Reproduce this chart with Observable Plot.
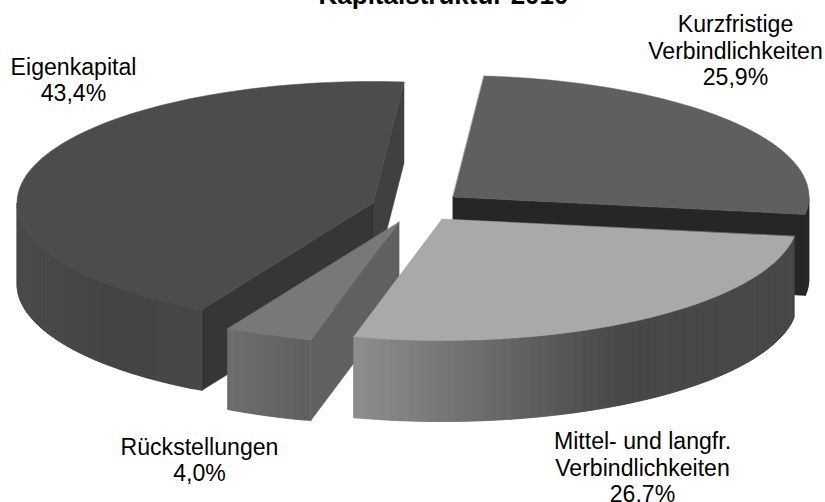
<!DOCTYPE html>
<html>
<head>
<meta charset="utf-8">
<script src="https://cdn.jsdelivr.net/npm/d3@7"></script>
<script src="https://cdn.jsdelivr.net/npm/@observablehq/plot@0.6"></script>
<style>html,body{margin:0;padding:0;background:#fff}svg{display:block}</style>
</head>
<body>
<div id="chart"></div>
<script>
const chartTitle = "Kapitalstruktur 2010";
const categories = ["Kurzfristige\nVerbindlichkeiten", "Mittel- und langfr.\nVerbindlichkeiten", "Rückstellungen", "Eigenkapital"];
const shares = [25.9, 26.7, 4.0, 43.4];

// layout of the exploded pie, slices clockwise from the first angle
const startAngle = 5, rx = 356, ry = 121.5, depth = 81;
const layout = [
  {c: [453, 197], top: "#5f5f5f", lab: [735, 49.5], wall: [[0, 42], [1, 38]], cut: "#262626", cutEdge: "a1"},
  {c: [442, 219], top: "#a9a9a9", lab: [642, 466.5], wall: [[0, 142], [0.6, 72], [1, 72]]},
  {c: [399, 222], top: "#787878", lab: [199, 459], wall: [[0, 110], [1, 95]], cut: "#606060", cutEdge: "a0"},
  {c: [373, 203], top: "#4c4c4c", lab: [73, 79],   wall: [[0, 75], [0.5, 68], [1, 71]], cut: "#363636", cutEdge: "a0", cut2: "#404040"}
];
const order = [0, 3, 2, 1]; // back to front

const rad = d => d * Math.PI / 180;
const arcPt = (c, a) => [c[0] + rx * Math.sin(rad(a)), c[1] - ry * Math.cos(rad(a))];

const cum = d3.cumsum(shares);
const slices = shares.map((s, i) => ({
  ...layout[i],
  a0: startAngle + (i ? cum[i - 1] : 0) * 3.6,
  a1: startAngle + cum[i] * 3.6
}));

const rows = [];
let gid = 0;
const add = (pairs, color) => {
  const z = gid++;
  for (const [p, q] of pairs) rows.push({x1: p[0], y1: p[1], x2: q[0], y2: q[1], z, color});
};
const down = p => [p[0], p[1] + depth];
const grey = v => { const h = Math.round(v); return `rgb(${h},${h},${h})`; };

for (const i of order) {
  const s = slices[i];
  const a0 = Math.max(s.a0, 90), a1 = Math.min(s.a1, 270);
  const xs = [arcPt(s.c, a0)[0], arcPt(s.c, a1)[0]];
  const xMin = Math.min(...xs), xMax = Math.max(...xs);
  const shade = d3.scaleLinear().domain(s.wall.map(d => d[0])).range(s.wall.map(d => d[1]));
  const steps = Math.max(2, Math.round((a1 - a0) / 1.5));
  // each strip runs on under the next one so no seams show
  for (let k = 0; k < steps; k++) {
    const b0 = a0 + (a1 - a0) * k / steps;
    const b1 = a0 + (a1 - a0) * Math.min(k + 2, steps) / steps;
    const bm = a0 + (a1 - a0) * (k + 0.5) / steps;
    const pts = [b0, (b0 + b1) / 2, b1].map(b => arcPt(s.c, b));
    const t = (arcPt(s.c, bm)[0] - xMin) / (xMax - xMin);
    add(pts.map(p => [p, down(p)]), grey(shade(t)));
  }
  if (s.cut2) { const e = arcPt(s.c, s.a1); add([[s.c, down(s.c)], [e, down(e)]], s.cut2); }
  if (s.cut) { const e = arcPt(s.c, s[s.cutEdge]); add([[s.c, down(s.c)], [e, down(e)]], s.cut); }
  const n = Math.ceil((s.a1 - s.a0) / 1.5), arc = [];
  for (let k = 0; k <= n; k++) arc.push([s.c, arcPt(s.c, s.a0 + (s.a1 - s.a0) * k / n)]);
  add(arc, s.top);
}

const labels = categories.map((c, i) => ({
  text: `${c}\n${shares[i].toFixed(1).replace(".", ",")}%`,
  x: layout[i].lab[0], y: layout[i].lab[1]
}));

const plot = Plot.plot({
  width: 825, height: 502,
  margin: 0,
  x: {domain: [0, 825], range: [0, 825], axis: null},
  y: {domain: [0, 502], range: [0, 502], axis: null},
  color: {type: "identity"},
  style: {background: "#fff"},
  marks: [
    Plot.area(rows, {x1: "x1", y1: "y1", x2: "x2", y2: "y2", z: "z", fill: "color", stroke: "color", strokeWidth: 0.5, curve: "linear"}),
    Plot.text(labels, {x: "x", y: "y", text: "text", fontFamily: "'Liberation Sans', Arial, sans-serif", fontSize: 23.1, lineHeight: 1.15, fill: "#000", textAnchor: "middle"}),
    Plot.text([chartTitle], {x: () => 443, y: () => -5, text: d => d, fontFamily: "'Liberation Sans', Arial, sans-serif", fontSize: 26, fontWeight: "bold", fill: "#000", textAnchor: "middle"})
  ]
});
document.getElementById("chart").append(plot);
</script>
</body>
</html>
